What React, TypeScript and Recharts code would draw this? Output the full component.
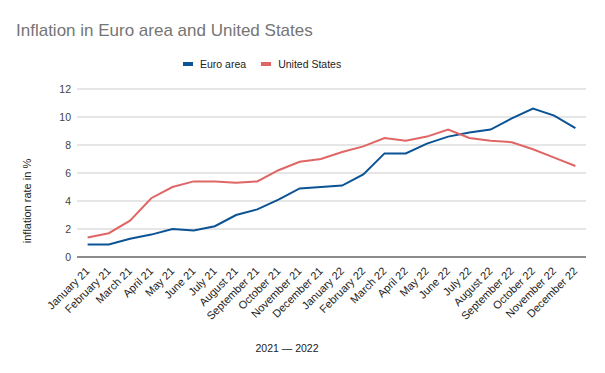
import { LineChart, Line, XAxis, YAxis, CartesianGrid } from "recharts";

const months = [
  "January 21", "February 21", "March 21", "April 21", "May 21", "June 21",
  "July 21", "August 21", "September 21", "October 21", "November 21", "December 21",
  "January 22", "February 22", "March 22", "April 22", "May 22", "June 22",
  "July 22", "August 22", "September 22", "October 22", "November 22", "December 22",
];
const euroArea = [
  0.9, 0.9, 1.3, 1.6, 2.0, 1.9, 2.2, 3.0, 3.4, 4.1, 4.9, 5.0,
  5.1, 5.9, 7.4, 7.4, 8.1, 8.6, 8.9, 9.1, 9.9, 10.6, 10.1, 9.2,
];
const unitedStates = [
  1.4, 1.7, 2.6, 4.2, 5.0, 5.4, 5.4, 5.3, 5.4, 6.2, 6.8, 7.0,
  7.5, 7.9, 8.5, 8.3, 8.6, 9.1, 8.5, 8.3, 8.2, 7.7, 7.1, 6.5,
];
const yTicks = [0, 2, 4, 6, 8, 10, 12];

const EURO = "#0b5394";
const US = "#e06666";
const FONT = "Arial, 'Liberation Sans', sans-serif";

const data = months.map((m, i) => ({
  month: m,
  euro: euroArea[i],
  us: unitedStates[i],
}));

function MonthTick({ x, y, payload }: any) {
  return (
    <g transform={`translate(${x},${y + 10})`}>
      <text
        textAnchor="end"
        transform="rotate(-45)"
        dy="0.35em"
        fontSize={11}
        fontFamily={FONT}
        fill="#222"
      >
        {payload.value}
      </text>
    </g>
  );
}

function LegendItem({ color, label }: { color: string; label: string }) {
  return (
    <span style={{ display: "inline-flex", alignItems: "center", marginRight: 15 }}>
      <span style={{ width: 10, height: 4, background: color, marginRight: 7 }} />
      <span>{label}</span>
    </span>
  );
}

export default function App() {
  return (
    <div
      style={{
        position: "absolute",
        left: 0,
        top: 0,
        width: 605,
        height: 373,
        background: "#fff",
        fontFamily: FONT,
      }}
    >
      <div
        style={{
          position: "absolute",
          left: 16,
          top: 21,
          fontSize: 17,
          lineHeight: "20px",
          color: "#757575",
          whiteSpace: "nowrap",
        }}
      >
        Inflation in Euro area and United States
      </div>
      <div
        style={{
          position: "absolute",
          left: 183,
          top: 55,
          fontSize: 10.5,
          lineHeight: "14px",
          color: "#222",
          whiteSpace: "nowrap",
        }}
      >
        <LegendItem color={EURO} label="Euro area" />
        <LegendItem color={US} label="United States" />
      </div>
      <LineChart
        width={605}
        height={373}
        data={data}
        margin={{ top: 89, right: 19, left: 0, bottom: 0 }}
      >
        <CartesianGrid vertical={false} stroke="#ccc" />
        <XAxis
          dataKey="month"
          height={116}
          interval={0}
          padding={{ left: 10.6, right: 10.6 }}
          axisLine={{ stroke: "#333" }}
          tickLine={false}
          tickSize={0}
          tick={<MonthTick />}
        />
        <YAxis
          width={77}
          domain={[0, 12]}
          ticks={yTicks}
          axisLine={false}
          tickLine={false}
          tickMargin={0}
          tick={{ fill: "#444", fontSize: 10.5, fontFamily: FONT }}
        />
        <Line
          type="linear"
          dataKey="euro"
          stroke={EURO}
          strokeWidth={2}
          dot={false}
          isAnimationActive={false}
        />
        <Line
          type="linear"
          dataKey="us"
          stroke={US}
          strokeWidth={2}
          dot={false}
          isAnimationActive={false}
        />
        <text
          x={0}
          y={0}
          transform="translate(31,201) rotate(-90)"
          textAnchor="middle"
          fontSize={11}
          fontFamily={FONT}
          fill="#222"
        >
          inflation rate in %
        </text>
        <text
          x={287}
          y={352}
          textAnchor="middle"
          fontSize={10.5}
          fontFamily={FONT}
          fill="#222"
        >
          2021 — 2022
        </text>
      </LineChart>
    </div>
  );
}
